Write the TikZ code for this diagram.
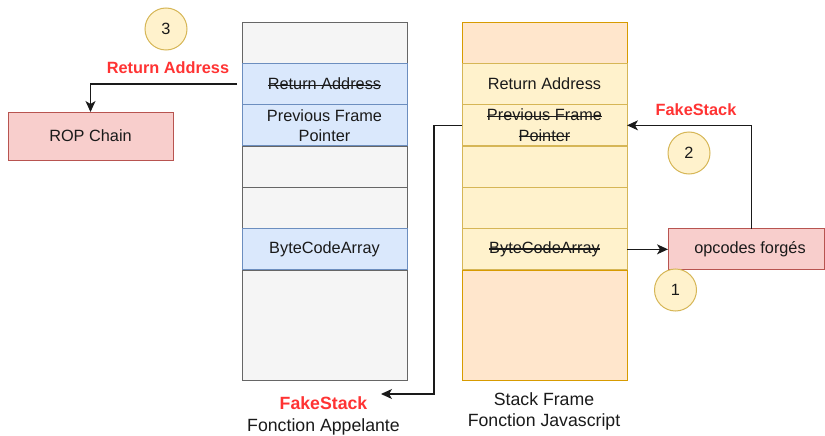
\documentclass[tikz,border=0pt]{standalone}
\usepackage{fontspec}
\setmainfont{Liberation Sans}
\usetikzlibrary{arrows.meta}

% struck-through text: the text, then a rule laid across its x-height middle
\newcommand{\strk}[1]{\leavevmode\setbox0\hbox{#1}\copy0\llap{\rule[0.24em]{\wd0}{1.2pt}}}

\definecolor{grayfill}{HTML}{F5F5F5}
\definecolor{graydraw}{HTML}{666666}
\definecolor{bluefill}{HTML}{DAE8FC}
\definecolor{bluedraw}{HTML}{6C8EBF}
\definecolor{yelfill}{HTML}{FFF2CC}
\definecolor{yeldraw}{HTML}{D6B656}
\definecolor{orgfill}{HTML}{FFE6CC}
\definecolor{orgdraw}{HTML}{D79B00}
\definecolor{redfill}{HTML}{F8CECC}
\definecolor{reddraw}{HTML}{B85450}
\definecolor{alert}{HTML}{FF3333}
\definecolor{ink}{HTML}{1A1A1A}

\begin{document}
\begin{tikzpicture}[x=1pt,y=-1pt,
  every node/.style={font=\fontsize{16.3pt}{20.5pt}\selectfont, text=ink},
  cell/.style={rectangle, minimum width=165pt, minimum height=41.33pt,
    inner sep=0pt, outer sep=0pt, line width=1pt, align=center},
  graycell/.style={cell, fill=grayfill, draw=graydraw},
  bluecell/.style={cell, fill=bluefill, draw=bluedraw},
  yelcell/.style={cell, fill=yelfill, draw=yeldraw},
  orgcell/.style={cell, fill=orgfill, draw=orgdraw},
  redbox/.style={rectangle, fill=redfill, draw=reddraw, line width=1pt,
    minimum height=48pt, inner sep=0pt, outer sep=0pt},
  stepnum/.style={circle, fill=yelfill, draw=yeldraw, line width=1pt,
    minimum size=42pt, inner sep=0pt},
  alertlbl/.style={font=\fontsize{16.3pt}{20.5pt}\selectfont\bfseries, text=alert},
  caption/.style={align=center, font=\fontsize{17.7pt}{21.2pt}\selectfont},
  link/.style={draw=ink, line width=1.2pt,
    -{Stealth[length=11pt,width=10pt,inset=3pt]}}
]
\useasboundingbox (0,0) rectangle (825,436);

% caller frame (left column)
\node[graycell] (L1) at (324.5,42.67) {};
\node[graycell] (L4) at (324.5,166.67) {};
\node[graycell] (L5) at (324.5,208) {};
\node[graycell, minimum height=110pt] (L7) at (324.5,325) {};
\node[bluecell] (L2) at (324.5,84) {\strk{Return Address}};
\node[bluecell] (L3) at (324.5,125.33) {\raisebox{-0.6pt}{Previous Frame}\\Pointer};
\node[bluecell] (L6) at (324.5,249.33) {ByteCodeArray};

% javascript frame (right column)
\node[orgcell] (R1) at (544.5,42.67) {};
\node[orgcell, minimum height=110pt] (R7) at (544.5,325) {};
\node[yelcell] (R2) at (544.5,84) {Return Address};
\node[yelcell] (R3) at (544.5,125.33) {\strk{Previous Frame}\\\strk{Pointer}};
\node[yelcell] (R4) at (544.5,166.67) {};
\node[yelcell] (R5) at (544.5,208) {};
\node[yelcell] (R6) at (544.5,249.33) {\strk{ByteCodeArray}};

% side boxes
\node[redbox, minimum width=165pt] (rop) at (90.5,136) {ROP Chain};
\node[redbox, minimum width=156pt, minimum height=41.33pt] (op) at (746,249.33) {\hspace*{8pt}opcodes forgés};

% step markers
\node[stepnum] (s3) at (166,29) {3};
\node[stepnum] (s2) at (689,153) {2};
\node[stepnum] (s1) at (675.5,290) {1};

% labels
\node[alertlbl] (lblret) at (168,68) {Return Address};
\node[alertlbl] (lblfake) at (696,110) {FakeStack};
\node[caption] (capL) at (323.5,416) {{\bfseries\color{alert}FakeStack}\\Fonction Appelante};
\node[caption] (capR) at (544,411.5) {Stack Frame\\Fonction Javascript};

% connectors
\coordinate (tipB) at (381,394);
\draw[link] ([xshift=-5pt]L2.west) -| (rop.north);
\draw[link] (R3.west) -- ++(-28,0) |- (tipB);
\draw[link] ([xshift=5.5pt]op.north) |- (R3.east);
\draw[link] (R6.east) -- (op.west);
\end{tikzpicture}
\end{document}
